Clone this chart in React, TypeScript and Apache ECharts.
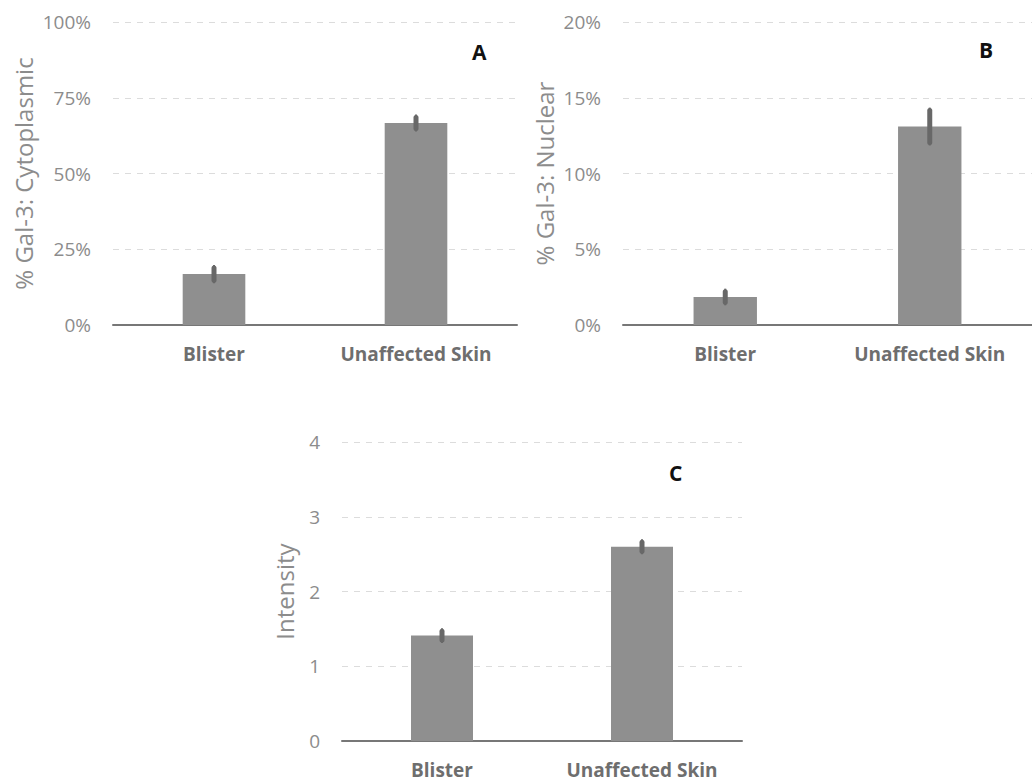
import React, { useEffect, useRef } from "react";
import * as echarts from "echarts";

const categories = ["Blister", "Unaffected Skin"];
const cytoValues = [16.8, 66.7];
const cytoErr = [3.0, 2.8];
const nuclearValues = [1.85, 13.1];
const nuclearErr = [0.55, 1.25];
const intensityValues = [1.41, 2.6];
const intensityErr = [0.1, 0.1];

const BAR = "#8f8f8f";
const ERR = "#686868";
const TICK = "#8c8c8c";
const FONT = "Open Sans";

function errSeries(idx: number, vals: number[], errs: number[]) {
  return {
    type: "custom",
    xAxisIndex: idx,
    yAxisIndex: idx,
    z: 5,
    data: vals.map((v, i) => [i, v - errs[i], v + errs[i]]),
    renderItem: (params: any, api: any) => {
      const lo = api.coord([api.value(0), api.value(1)]);
      const hi = api.coord([api.value(0), api.value(2)]);
      return {
        type: "group",
        children: [
          {
            type: "line",
            shape: { x1: lo[0], y1: lo[1], x2: hi[0], y2: hi[1] },
            style: { stroke: ERR, lineWidth: 2 },
          },
          {
            type: "line",
            shape: { x1: lo[0], y1: lo[1] - 3, x2: hi[0], y2: hi[1] + 3 },
            style: { stroke: ERR, lineWidth: 5, lineCap: "round" },
          },
        ],
      };
    },
  };
}

export default function App() {
  const ref = useRef<HTMLDivElement>(null);
  useEffect(() => {
    document.body.style.margin = "0";
    const chart = echarts.init(ref.current!, null, { renderer: "svg" });
    const grids = [
      { left: 113, top: 22, width: 404, height: 303 },
      { left: 623, top: 22, width: 417, height: 303 },
      { left: 342, top: 442, width: 400, height: 299 },
    ];
    const yDefs = [
      { max: 100, interval: 25, fmt: "{value}%", name: "% Gal-3: Cytoplasmic", gap: 78 },
      { max: 20, interval: 5, fmt: "{value}%", name: "% Gal-3: Nuclear", gap: 67 },
      { max: 4, interval: 1, fmt: "{value}", name: "Intensity", gap: 46 },
    ];
    const valueSets = [cytoValues, nuclearValues, intensityValues];
    const errSets = [cytoErr, nuclearErr, intensityErr];
    const option: any = {
      animation: false,
      grid: grids,
      title: [
        { text: "A", left: 472, top: 41 },
        { text: "B", left: 979, top: 39 },
        { text: "C", left: 669, top: 462 },
      ].map((t) => ({
        ...t,
        textStyle: { fontFamily: FONT, fontWeight: "bold", fontSize: 21, color: "#111" },
        padding: 0,
      })),
      xAxis: grids.map((_, i) => ({
        type: "category",
        gridIndex: i,
        data: categories,
        axisLine: { lineStyle: { color: "#777", width: 2 } },
        axisTick: { show: false },
        axisLabel: {
          fontFamily: FONT,
          fontWeight: "bold",
          fontSize: 19,
          color: "#6e6e6e",
          margin: 19,
        },
      })),
      yAxis: yDefs.map((d, i) => ({
        type: "value",
        gridIndex: i,
        min: 0,
        max: d.max,
        interval: d.interval,
        name: d.name,
        nameLocation: "middle",
        nameGap: d.gap,
        nameTextStyle: { fontFamily: FONT, fontSize: 24, color: TICK },
        axisLine: { show: false },
        axisTick: { show: false },
        axisLabel: { formatter: d.fmt, fontFamily: FONT, fontSize: 19, color: TICK, margin: 22 },
        splitLine: { lineStyle: { color: "#dcdcdc", type: [6, 6], width: 1 } },
      })),
      series: [
        ...valueSets.map((vals, i) => ({
          type: "bar",
          xAxisIndex: i,
          yAxisIndex: i,
          data: vals,
          barWidth: "31%",
          itemStyle: { color: BAR },
        })),
        ...valueSets.map((vals, i) => errSeries(i, vals, errSets[i])),
      ],
    };
    chart.setOption(option);
    return () => chart.dispose();
  }, []);
  return <div ref={ref} style={{ width: 1032, height: 781 }} />;
}
